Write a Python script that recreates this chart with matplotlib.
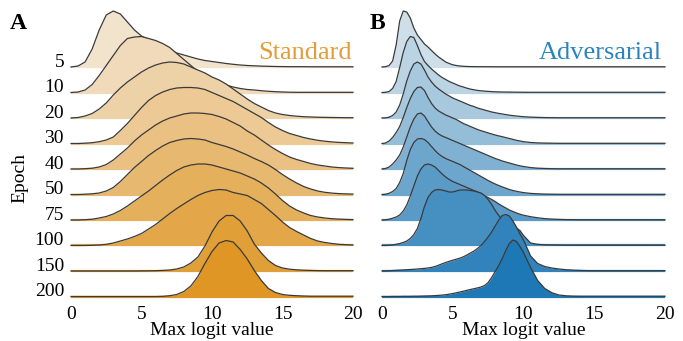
import numpy as np
import matplotlib
matplotlib.use("Agg")
from matplotlib import pyplot as plt

plt.rcParams['font.family'] = ['Liberation Serif', 'DejaVu Serif']

# epochs shown as ridges (top to bottom)
epochs = [5, 10, 20, 30, 40, 50, 75, 100, 150, 200]

# density of max logit (arbitrary units, peak ~56)
# Standard panel, sampled at 0, 0.5, ..., 20
x_std = np.arange(0, 20.01, 0.5)
std_5 = [0, 1, 5, 18, 37, 52, 56, 53, 45, 37, 31, 27, 23, 20, 17, 14, 12, 10, 8, 6.5, 5.5,
         4.5, 3.5, 2.7, 2, 1.5, 1.2, 0.9, 0.7, 0.5, 0.4, 0.3, 0.3, 0.3, 0.2, 0.2, 0.2, 0.2, 0.2, 0.2, 0.2]
std_10 = [0, 0.5, 2.5, 8, 17, 27, 37, 47, 54, 55.5, 56, 54, 52, 49, 45, 39, 33, 27, 21, 17, 13,
          10, 7.5, 5.5, 4, 3, 2.5, 1.8, 1.2, 0.8, 0.5, 0.3, 0.2, 0.2, 0.2, 0.2, 0.2, 0.2, 0.2, 0.2, 0.2]
std_20 = [0, 0.5, 2, 4.5, 9, 15, 23, 30, 36, 41, 46, 50, 53, 55, 56, 55.5, 54, 51, 48, 45, 41,
          38, 34, 29, 24, 19, 14.5, 11, 7.5, 5, 3.5, 2.5, 1.8, 1.3, 1, 0.8, 0.6, 0.5, 0.4, 0.3, 0.3]
std_30 = [0, 0, 0.3, 0.8, 1.8, 3.5, 6.5, 13, 20, 28, 36, 43, 48, 51.5, 54, 55.5, 56, 56, 55.5, 54, 51,
          48, 45, 42, 38, 34, 30, 26, 21, 16.5, 13, 10, 8, 6, 4.5, 3.2, 2.3, 1.6, 1.1, 0.8, 0.5]
std_40 = [0, 0, 0.3, 0.8, 2, 4.5, 9, 15, 21, 28, 34, 39, 44, 48, 51, 53, 55, 56, 56, 55.5, 54.5,
          52.5, 50, 46.5, 43, 38, 34, 29, 24, 19.5, 15.5, 12, 9.5, 7.5, 5.5, 4, 3, 2, 1.4, 1, 0.7]
std_50 = [0, 0, 0.3, 0.7, 1.5, 3.5, 7, 13, 20, 27, 33, 39, 44, 48.5, 52, 54, 55.5, 56, 55.5, 54.5, 52,
          50, 48, 45.5, 42.5, 39.5, 36, 33, 29.5, 25, 20, 15.5, 11.5, 8, 5.5, 3.5, 2.2, 1.4, 0.9, 0.6, 0.4]
std_75 = [0, 0, 0.3, 0.8, 2, 3.5, 6, 9.5, 14, 19, 24, 29, 34.5, 40, 45, 49.5, 53, 55, 56, 56, 55,
          53, 51, 49, 47, 44, 41, 37, 32, 26, 19.5, 14, 10, 7, 4.5, 3, 2, 1.3, 0.9, 0.6, 0.4]
std_100 = [0, 0, 0, 0.2, 0.5, 1.2, 2.5, 4.5, 6.5, 9, 12, 16.5, 21, 26.5, 32, 37, 41.5, 46, 50, 53, 55,
           56, 55.5, 53, 51.5, 50, 46, 42, 36, 30, 23.5, 18, 14, 10.5, 7, 4.5, 3, 2, 1.2, 0.8, 0.5]
std_150 = [0, 0, 0, 0, 0, 0, 0, 0, 0, 0, 0.1, 0.2, 0.3, 0.6, 1, 2, 4, 8, 14, 25, 39,
           50, 55.5, 55.5, 50, 40, 27, 18, 10.5, 5.5, 3, 1.8, 1.2, 0.8, 0.6, 0.4, 0.3, 0.3, 0.3, 0.3, 0.3]
std_200 = [0, 0, 0, 0, 0, 0, 0, 0, 0, 0, 0, 0, 0, 0.2, 0.8, 2, 5, 10.5, 20, 33, 45,
           53.5, 56, 54.5, 47, 37.5, 26, 16, 8, 4, 2, 1.2, 0.8, 0.5, 0.3, 0.3, 0.3, 0.3, 0.3, 0.3, 0.3]

# Adversarial panel, sampled every 0.25 up to 10, then every 0.5
x_adv = np.concatenate([np.arange(0, 10.01, 0.25), np.arange(10.5, 20.01, 0.5)])
adv_5 = [0, 0.3, 1.5, 6, 22, 46, 56, 55, 49, 39,
         32, 27.5, 23, 20, 16.5, 13, 10, 7.5, 5, 3.5,
         2.2, 1.5, 1, 0.7, 0.5, 0.4, 0.35, 0.3, 0.3, 0.3,
         0.25, 0.25, 0.2, 0.2, 0.2, 0.2, 0.2, 0.2, 0.2, 0.2,
         0.2] + [0.2] * 20
adv_10 = [0, 0.2, 1, 4, 11, 25, 40, 51, 56, 55,
          47, 38, 31, 27, 23.5, 20.5, 17.5, 15, 13, 11,
          9.5, 8, 6.5, 5.5, 4.3, 3.4, 2.7, 2.1, 1.7, 1.4,
          1.1, 0.9, 0.7, 0.6, 0.5, 0.45, 0.4, 0.35, 0.3, 0.3,
          0.25] + [0.2] * 20
adv_20 = [0, 0.1, 0.8, 2.5, 6, 13, 24, 37, 47, 54,
          56, 54, 48, 41, 36, 32, 29, 26.5, 24, 22,
          20, 18.5, 17, 15.5, 14, 12.5, 11.5, 10, 9, 8,
          7, 6, 5.3, 4.6, 4, 3.4, 2.8, 2.4, 2, 1.6,
          1.3, 0.9, 0.6, 0.4, 0.3] + [0.2] * 16
adv_30 = [0, 0.5, 2.5, 6, 11, 17, 26, 36, 45, 52,
          56, 56.5, 53, 46, 40, 35.5, 32.5, 30.5, 28.5, 27,
          25.5, 24, 22, 20, 18.5, 17, 15.5, 14, 12.8, 11.7,
          10.6, 9.5, 8.5, 7.6, 6.8, 5.9, 5, 4.1, 3.2, 2.5,
          1.8, 1, 0.6, 0.4, 0.3] + [0.2] * 16
adv_40 = [0, 0.5, 2, 5, 9, 14, 22, 32, 42, 50,
          55, 56, 53, 47.5, 42, 38, 35, 33, 31.5, 30,
          28.5, 27, 25.5, 24, 22.5, 21, 19.5, 18, 16.5, 15,
          13.5, 12, 10.5, 9.3, 8, 7, 6, 5, 4, 3.2,
          2.5, 1.4, 0.8, 0.5, 0.3] + [0.2] * 16
adv_50 = [0, 0.3, 1.2, 3, 6, 12, 21, 34, 45, 52,
          55.5, 56, 55, 52, 48, 44, 40.5, 38, 36, 34.5,
          33, 31.5, 30, 28, 26, 24, 22, 20, 18, 16,
          14, 12.2, 10.5, 9, 7.6, 6.3, 5, 4, 3.2, 2.5,
          1.9, 1.1, 0.7, 0.4, 0.3] + [0.2] * 16
adv_75 = [0, 0.2, 0.8, 1.8, 3, 5, 9, 15, 24, 34,
          44, 51, 55, 56, 55, 53, 49.5, 46, 43, 40.5,
          38.5, 37, 35.5, 34, 32.5, 31, 29.5, 28, 26, 24,
          22.5, 20.5, 18.5, 16, 14, 12, 10, 8.5, 7, 5.8,
          4.8, 3.3, 2.2, 1.4, 0.9, 0.6, 0.4, 0.3] + [0.2] * 13
adv_100 = [0, 0, 0.2, 0.6, 1.2, 2, 3, 4.5, 7, 11,
           17, 27, 39, 48, 53, 55.5, 56, 55.5, 54.5, 53.5,
           53.5, 54.5, 55.5, 55.5, 55.5, 55, 54.5, 53.5, 52.5, 50,
           46, 41, 35, 30, 26, 23, 21, 19, 17.5, 15,
           10, 2.5, 1.2, 0.7, 0.5, 0.4] + [0.3] * 15
adv_150 = [0, 0.1, 0.3, 0.5, 0.7, 0.9, 1.1, 1.3, 1.5, 1.7,
           2, 2.3, 2.6, 3, 3.6, 4.5, 5.8, 7.2, 8.5, 9.7,
           10.8, 11.8, 12.8, 14.2, 16, 18, 20, 22.5, 25.5, 29.5,
           34, 39, 45, 51, 55.5, 56.5, 55, 50, 44, 37,
           31, 15, 7.5, 4.5, 3, 2, 1.3, 0.9, 0.6, 0.4] + [0.3] * 11
adv_200 = [0, 0, 0, 0.1, 0.1, 0.1, 0.2, 0.2, 0.2, 0.3,
           0.3, 0.4, 0.5, 0.6, 0.7, 0.9, 1.1, 1.4, 1.8, 2.3,
           3, 3.7, 4.5, 5.3, 6.2, 7, 7.8, 8.6, 9.5, 11,
           14, 19, 25, 31, 38, 46, 53, 56.5, 55, 50,
           44, 29, 16, 8, 3.8, 1.5, 0.7, 0.4] + [0.3] * 13

std_curves = [std_5, std_10, std_20, std_30, std_40, std_50, std_75, std_100, std_150, std_200]
adv_curves = [adv_5, adv_10, adv_20, adv_30, adv_40, adv_50, adv_75, adv_100, adv_150, adv_200]

xticks = [0, 5, 10, 15, 20]
scale = 1 / 25.5  # density units -> ridge spacing


def ridge(ax, x, curves, light, dark):
    n = len(curves)
    light = np.array(light) / 255
    dark = np.array(dark) / 255
    for i, d in enumerate(curves):
        d = np.asarray(d, float)
        assert len(d) == len(x)
        base = -i
        col = light + (dark - light) * i / (n - 1)
        ax.fill_between(x, base, base + d * scale, color=col, lw=0,
                        zorder=3 * i + 1, clip_on=False)
        ax.plot([x[0], x[-1]], [base, base], color=col, lw=1.6,
                zorder=3 * i + 2, clip_on=False, solid_capstyle='butt')
        ax.plot(x, base + d * scale, color='#3a3a3a', lw=0.9,
                zorder=3 * i + 3, clip_on=False, solid_joinstyle='round')
    ax.set_xlim(0, 20)
    ax.set_ylim(-n + 1, 2.4)
    for s in ax.spines.values():
        s.set_visible(False)
    ax.set_xticks(xticks)
    ax.set_xticklabels([str(t) for t in xticks])
    ax.tick_params(axis='x', length=0, pad=7, labelsize=14)
    ax.set_xlabel('Max logit value', fontsize=14, labelpad=-1)


fig = plt.figure(figsize=(6.83, 3.41), dpi=100)
bottom = (341 - 296.5) / 341
height = 11.4 * 25.5 / 341
axA = fig.add_axes([71 / 683, bottom, 282 / 683, height])
axB = fig.add_axes([382 / 683, bottom, 283 / 683, height])

ridge(axA, x_std, std_curves, (242, 227, 205), (223, 150, 36))
ridge(axB, x_adv, adv_curves, (207, 223, 234), (30, 120, 181))

axA.set_yticks([-i + 0.27 for i in range(len(epochs))])
axA.set_yticklabels([str(e) for e in epochs])
axA.tick_params(axis='y', length=0, pad=5, labelsize=14)
axB.set_yticks([])

fig.text(20 / 683, 1 - 178 / 341, 'Epoch', rotation=90, ha='center', va='center', fontsize=14)
fig.text(352 / 683, 1 - 59 / 341, 'Standard', ha='right', va='baseline', fontsize=19, color='#E39C38')
fig.text(662 / 683, 1 - 59 / 341, 'Adversarial', ha='right', va='baseline', fontsize=19, color='#2A84BF')
fig.text(10 / 683, 1 - 29 / 341, 'A', ha='left', va='baseline', fontsize=17, fontweight='bold')
fig.text(370 / 683, 1 - 29 / 341, 'B', ha='left', va='baseline', fontsize=17, fontweight='bold')

fig.savefig('out.png', dpi=100)
